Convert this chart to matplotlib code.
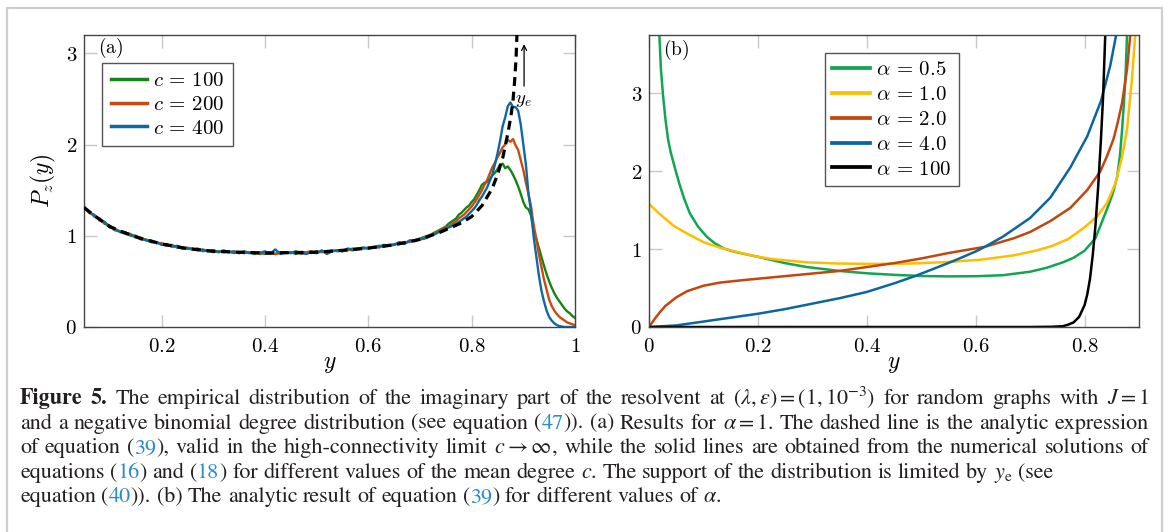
import numpy as np
import matplotlib
matplotlib.use("Agg")
import matplotlib.pyplot as plt
from matplotlib.patches import Rectangle

plt.rcParams['mathtext.fontset'] = 'cm'
plt.rcParams['font.family'] = 'DejaVu Serif'

# ---------------- panel (a) data ----------------
x_flat = np.round(np.arange(0.05, 0.745, 0.01), 3)
x_peak = np.round(np.arange(0.75, 1.0001, 0.005), 3)
x_a = np.concatenate([x_flat, x_peak])

c100 = [1.30, 1.27, 1.21, 1.19, 1.13, 1.11, 1.07, 1.04, 1.04, 1.00,
        0.99, 0.96, 0.96, 0.93, 0.93, 0.91, 0.89, 0.90, 0.87, 0.87,
        0.86, 0.85, 0.86, 0.83, 0.84, 0.82, 0.83, 0.82, 0.83, 0.81,
        0.82, 0.81, 0.82, 0.80, 0.82, 0.80, 0.81, 0.80, 0.82, 0.81,
        0.82, 0.80, 0.82, 0.82, 0.81, 0.83, 0.82, 0.83, 0.83, 0.84,
        0.83, 0.85, 0.84, 0.86, 0.86, 0.87, 0.87, 0.89, 0.88, 0.90,
        0.90, 0.92, 0.92, 0.94, 0.95, 0.97, 0.99, 1.01, 1.04, 1.07,
        1.10, 1.13, 1.15, 1.17, 1.19, 1.23, 1.25, 1.28, 1.31, 1.33,
        1.37, 1.40, 1.45, 1.50, 1.56, 1.58, 1.59, 1.62, 1.66, 1.69,
        1.73, 1.78, 1.79, 1.74, 1.76, 1.72, 1.67, 1.61, 1.54, 1.46,
        1.37, 1.31, 1.29, 1.22, 1.05, 0.97, 0.87, 0.77, 0.67, 0.58,
        0.50, 0.43, 0.37, 0.32, 0.28, 0.24, 0.20, 0.17, 0.15, 0.12,
        0.10]
c200 = [1.32, 1.25, 1.23, 1.17, 1.15, 1.09, 1.08, 1.04, 1.03, 1.02,
        0.98, 0.98, 0.95, 0.95, 0.92, 0.92, 0.89, 0.89, 0.88, 0.86,
        0.87, 0.85, 0.85, 0.84, 0.83, 0.84, 0.82, 0.83, 0.82, 0.82,
        0.81, 0.82, 0.81, 0.82, 0.80, 0.81, 0.82, 0.80, 0.81, 0.82,
        0.81, 0.82, 0.80, 0.82, 0.83, 0.81, 0.83, 0.82, 0.84, 0.83,
        0.84, 0.84, 0.86, 0.85, 0.87, 0.86, 0.88, 0.87, 0.89, 0.89,
        0.91, 0.91, 0.93, 0.93, 0.95, 0.96, 0.98, 1.00, 1.03, 1.06,
        1.09, 1.10, 1.12, 1.14, 1.16, 1.19, 1.21, 1.23, 1.26, 1.29,
        1.32, 1.36, 1.40, 1.45, 1.50, 1.56, 1.61, 1.68, 1.75, 1.80,
        1.86, 1.91, 1.97, 2.00, 2.05, 2.03, 2.06, 1.99, 1.94, 1.83,
        1.72, 1.58, 1.46, 1.32, 1.12, 0.97, 0.80, 0.66, 0.52, 0.41,
        0.30, 0.23, 0.18, 0.14, 0.11, 0.09, 0.07, 0.05, 0.04, 0.03,
        0.02]
c400 = [1.31, 1.26, 1.22, 1.18, 1.15, 1.10, 1.06, 1.05, 1.02, 1.01,
        1.00, 0.97, 0.95, 0.94, 0.93, 0.90, 0.91, 0.88, 0.89, 0.86,
        0.86, 0.86, 0.84, 0.85, 0.83, 0.84, 0.82, 0.84, 0.82, 0.83,
        0.81, 0.83, 0.81, 0.82, 0.81, 0.83, 0.80, 0.85, 0.80, 0.82,
        0.81, 0.83, 0.81, 0.80, 0.82, 0.81, 0.84, 0.80, 0.83, 0.84,
        0.83, 0.86, 0.85, 0.86, 0.87, 0.86, 0.87, 0.88, 0.90, 0.89,
        0.90, 0.93, 0.91, 0.95, 0.94, 0.96, 0.97, 1.00, 1.02, 1.05,
        1.08, 1.09, 1.10, 1.12, 1.13, 1.15, 1.17, 1.19, 1.21, 1.24,
        1.27, 1.30, 1.34, 1.39, 1.43, 1.48, 1.53, 1.60, 1.67, 1.78,
        1.90, 2.04, 2.20, 2.30, 2.42, 2.46, 2.41, 2.41, 2.37, 2.22,
        2.00, 1.78, 1.46, 1.26, 0.99, 0.78, 0.57, 0.40, 0.28, 0.18,
        0.11, 0.07, 0.04, 0.02, 0.01, 0.005, 0.0, 0.0, 0.0, 0.0,
        0.0]

x_an = [0.05, 0.07, 0.10, 0.13, 0.16, 0.20, 0.25, 0.30, 0.35, 0.40, 0.45,
        0.50, 0.55, 0.60, 0.65, 0.70, 0.74, 0.78, 0.80, 0.82, 0.84, 0.85,
        0.86, 0.87, 0.876, 0.88, 0.883, 0.886, 0.888]
p_an = [1.31, 1.22, 1.10, 1.03, 0.97, 0.91, 0.86, 0.83, 0.82, 0.81, 0.815,
        0.82, 0.84, 0.865, 0.90, 0.96, 1.04, 1.14, 1.21, 1.33, 1.52, 1.67,
        1.85, 2.12, 2.31, 2.48, 2.68, 2.95, 3.25]

# ---------------- panel (b) data ----------------
xb_05 = [0.019, 0.022, 0.026, 0.030, 0.035, 0.040, 0.045, 0.050, 0.057, 0.065,
         0.075, 0.090, 0.106, 0.120, 0.137, 0.150, 0.167, 0.198, 0.25, 0.29,
         0.35, 0.40, 0.45, 0.50, 0.55, 0.60, 0.65, 0.70, 0.73, 0.76,
         0.78, 0.80, 0.82, 0.841, 0.852, 0.860, 0.865, 0.869, 0.872, 0.875,
         0.878]
pb_05 = [3.75, 3.30, 2.96, 2.68, 2.41, 2.24, 2.11, 1.98, 1.81, 1.64,
         1.46, 1.29, 1.16, 1.08, 1.01, 0.98, 0.95, 0.905, 0.82, 0.77,
         0.72, 0.69, 0.67, 0.655, 0.65, 0.652, 0.665, 0.71, 0.76, 0.83,
         0.89, 0.98, 1.14, 1.51, 1.72, 1.93, 2.20, 2.54, 2.85, 3.18,
         3.75]
xb_10 = [0.0, 0.02, 0.045, 0.07, 0.10, 0.13, 0.167, 0.198, 0.229, 0.29, 0.35,
         0.41, 0.48, 0.55, 0.61, 0.67, 0.71, 0.74, 0.77, 0.80, 0.823, 0.841,
         0.857, 0.869, 0.878, 0.887, 0.893]
pb_10 = [1.58, 1.45, 1.30, 1.20, 1.09, 1.02, 0.955, 0.905, 0.87, 0.83, 0.815,
         0.81, 0.815, 0.835, 0.865, 0.92, 0.98, 1.04, 1.13, 1.28, 1.42, 1.59,
         1.85, 2.19, 2.54, 3.18, 3.75]
xb_20 = [0.0, 0.01, 0.02, 0.03, 0.05, 0.07, 0.10, 0.13, 0.17, 0.23, 0.29, 0.35,
         0.41, 0.45, 0.50, 0.55, 0.617, 0.67, 0.70, 0.737, 0.774, 0.805, 0.829,
         0.841, 0.853, 0.860, 0.869, 0.878, 0.884]
pb_20 = [0.0, 0.10, 0.19, 0.27, 0.38, 0.46, 0.53, 0.57, 0.60, 0.64, 0.68, 0.72,
         0.78, 0.82, 0.88, 0.95, 1.03, 1.14, 1.22, 1.36, 1.53, 1.76, 2.00,
         2.19, 2.41, 2.60, 2.88, 3.31, 3.75]
xb_40 = [0.0, 0.05, 0.10, 0.15, 0.20, 0.25, 0.30, 0.35, 0.40, 0.45, 0.487, 0.52,
         0.56, 0.60, 0.617, 0.65, 0.70, 0.737, 0.774, 0.805, 0.83, 0.847, 0.858]
pb_40 = [0.0, 0.02, 0.07, 0.12, 0.17, 0.23, 0.30, 0.37, 0.45, 0.56, 0.65, 0.74,
         0.85, 0.97, 1.03, 1.16, 1.40, 1.66, 2.05, 2.45, 2.90, 3.35, 3.75]
xb_100 = [0.0, 0.70, 0.74, 0.76, 0.77, 0.78, 0.79, 0.80, 0.805, 0.81, 0.815,
          0.82, 0.825, 0.83, 0.834, 0.838]
pb_100 = [0.0, 0.0, 0.003, 0.01, 0.03, 0.06, 0.13, 0.28, 0.42, 0.62, 0.92,
          1.30, 1.80, 2.40, 2.95, 3.75]

# caption: *...* bold, [...] link colour
caption = [
    r"*Figure 5.* The empirical distribution of the imaginary part of the resolvent at $(\lambda,\epsilon)=(1,10^{-3})$ for random graphs with $J=1$",
    r"and a negative binomial degree distribution (see equation ([47])). (a) Results for $\alpha=1$. The dashed line is the analytic expression",
    r"of equation ([39]), valid in the high-connectivity limit $c\to\infty$, while the solid lines are obtained from the numerical solutions of",
    r"equations ([16]) and ([18]) for different values of the mean degree $c$. The support of the distribution is limited by $y_\mathrm{e}$ (see",
    r"equation ([40])). (b) The analytic result of equation ([39]) for different values of $\alpha$.",
]
justify = [True, True, True, False, False]

W, H = 1170, 532
fig = plt.figure(figsize=(W / 100, H / 100), dpi=100)


def box(l, r, t, b):
    return [l / W, 1 - b / H, (r - l) / W, (b - t) / H]


axa = fig.add_axes(box(84, 575, 35, 327))
axb = fig.add_axes(box(649, 1139, 35, 327))


def style(ax):
    for s in ax.spines.values():
        s.set_color('#444444')
        s.set_linewidth(1.0)
    ax.tick_params(direction='in', length=9, width=1, color='#c8c8c8',
                   top=True, right=True, labelsize=15, labelcolor='black')
    ax.tick_params(axis='x', pad=7)
    ax.tick_params(axis='y', pad=5)


# panel (a)
lw = 1.7
axa.plot(x_a, c100, color='#148414', lw=lw, label=r'$c\,=\,100$')
axa.plot(x_a, c200, color='#cc4a0e', lw=lw, label=r'$c\,=\,200$')
axa.plot(x_a, c400, color='#0f68a4', lw=lw, label=r'$c\,=\,400$')
axa.plot(x_an, p_an, color='black', lw=2.3, ls=(0, (2.8, 1.8)), zorder=5)
axa.set_xlim(0.05, 1.0)
axa.set_ylim(0, 3.2)
axa.set_xticks([0.2, 0.4, 0.6, 0.8, 1.0])
axa.set_xticklabels(['$0.2$', '$0.4$', '$0.6$', '$0.8$', '$1$'])
axa.set_yticks([0, 1, 2, 3])
axa.set_yticklabels(['$0$', '$1$', '$2$', '$3$'])
style(axa)
axa.set_xlabel('$y$', fontsize=17, labelpad=-3)
axa.set_ylabel('$P_z(y)$', fontsize=17)
axa.yaxis.set_label_coords(-0.052, 0.5)
axa.text(0.028, 0.955, r'$\mathrm{(a)}$', transform=axa.transAxes,
         fontsize=14, ha='left', va='center')
axa.annotate('', xy=(0.9015, 3.10), xytext=(0.9015, 2.64),
             arrowprops=dict(arrowstyle='->', color='black', lw=0.9,
                             mutation_scale=9, shrinkA=0, shrinkB=0))
axa.text(0.883, 2.49, '$y_e$', fontsize=13.5, ha='left', va='center')
leg = axa.legend(loc='upper left', bbox_to_anchor=(0.037, 0.904),
                 borderaxespad=0, fontsize=15, frameon=True, fancybox=False,
                 edgecolor='#555555', framealpha=1, handlelength=1.75,
                 handletextpad=0.3, labelspacing=0.22, borderpad=0.4)
leg.get_frame().set_linewidth(1.0)
for ln in leg.get_lines():
    ln.set_linewidth(2.5)

# panel (b)
lwb = 1.8
axb.plot(xb_05, pb_05, color='#12a652', lw=lwb, label=r'$\alpha\,=\,0.5$')
axb.plot(xb_10, pb_10, color='#ffbd00', lw=lwb, label=r'$\alpha\,=\,1.0$')
axb.plot(xb_20, pb_20, color='#c2460e', lw=lwb, label=r'$\alpha\,=\,2.0$')
axb.plot(xb_40, pb_40, color='#0a66a0', lw=lwb, label=r'$\alpha\,=\,4.0$')
axb.plot(xb_100, pb_100, color='black', lw=lwb, label=r'$\alpha\,=\,100$')
axb.set_xlim(0, 0.9)
axb.set_ylim(0, 3.75)
axb.set_xticks([0, 0.2, 0.4, 0.6, 0.8])
axb.set_xticklabels(['$0$', '$0.2$', '$0.4$', '$0.6$', '$0.8$'])
axb.set_yticks([0, 1, 2, 3])
axb.set_yticklabels(['$0$', '$1$', '$2$', '$3$'])
style(axb)
axb.set_xlabel('$y$', fontsize=17, labelpad=-3)
axb.text(0.028, 0.95, r'$\mathrm{(b)}$', transform=axb.transAxes,
         fontsize=14, ha='left', va='center')
legb = axb.legend(loc='upper left', bbox_to_anchor=(0.359, 0.938),
                  borderaxespad=0, fontsize=15, frameon=True, fancybox=False,
                  edgecolor='#555555', framealpha=1, handlelength=1.8,
                  handletextpad=0.3, labelspacing=0.28, borderpad=0.35)
legb.get_frame().set_linewidth(1.0)
for ln in legb.get_lines():
    ln.set_linewidth(2.7)

# figure frame
fig.add_artist(Rectangle((7 / W, -0.1), (1162 - 7) / W, 1 - 8 / H + 0.1,
                         transform=fig.transFigure, fill=False,
                         edgecolor='#cfcfcf', lw=1.6))

# caption, laid out word by word and justified
fig.canvas.draw()
rend = fig.canvas.get_renderer()
ink = "#231f20"
link_col = "#2a8cc9"


def parse(line):
    words, word, buf = [], [], ''
    bold = link = math = False
    for ch in line:
        if ch == '$':
            math = not math
            buf += ch
        elif math:
            buf += ch
        elif ch in '*[] ':
            if buf:
                word.append((buf, bold, link))
                buf = ''
            if ch == '*':
                bold = not bold
            elif ch == '[':
                link = True
            elif ch == ']':
                link = False
            else:
                words.append(word)
                word = []
        else:
            buf += ch
    if buf:
        word.append((buf, bold, link))
    words.append(word)
    return words


def piece_width(txt, bold, fs):
    t = fig.text(0, 0, txt, fontsize=fs, fontweight='bold' if bold else 'normal',
                 family='STIXGeneral', math_fontfamily='stix')
    w = t.get_window_extent(renderer=rend).width
    t.remove()
    return w


def word_widths(words, fs):
    return [[piece_width(p[0], p[1], fs) for p in wd] for wd in words]


fs0 = 14.0
x0, x1 = 20, 1149
parsed = [parse(s) for s in caption]
ratios = []
for words, jus in zip(parsed, justify):
    if jus:
        ww = word_widths(words, fs0)
        natural = sum(sum(w) for w in ww) + 0.25 * fs0 * 100 / 72 * (len(words) - 1)
        ratios.append((x1 - x0) / natural)
fs = fs0 * min(ratios)
space = 0.25 * fs * 100 / 72

baselines = [404, 428.6, 453.2, 477.8, 502.4]
for words, jus, yb in zip(parsed, justify, baselines):
    ww = word_widths(words, fs)
    total = sum(sum(w) for w in ww)
    gap = (x1 - x0 - total) / (len(words) - 1) if jus else space
    x = x0
    for wd, wws in zip(words, ww):
        for (txt, bold, link), w in zip(wd, wws):
            fig.text(x / W, 1 - yb / H, txt, fontsize=fs,
                     fontweight='bold' if bold else 'normal',
                     color=link_col if link else ink, family='STIXGeneral',
                     math_fontfamily='stix', ha='left', va='baseline')
            x += w
        x += gap

fig.savefig('out.png', dpi=100)
